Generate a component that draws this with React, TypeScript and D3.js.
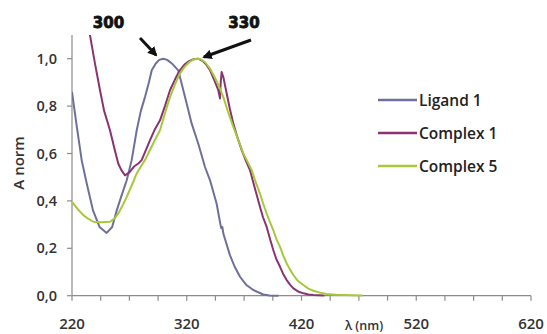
import React from "react";
import * as d3 from "d3";

const ligandX = [220, 224, 228.5, 233, 238.3, 244, 250.2, 255, 259, 263, 267.7, 272, 276.4, 280, 283.6, 287, 289.5, 293, 296, 299.6, 303, 307, 312.6, 318.5, 324.3, 330, 335.9, 340.3, 346, 349, 350, 351, 352, 357.7, 362, 366.4, 372, 378, 386.7, 392, 400];
const ligandY = [0.86, 0.72, 0.57, 0.47, 0.36, 0.29, 0.265, 0.29, 0.36, 0.42, 0.487, 0.572, 0.698, 0.78, 0.838, 0.9, 0.951, 0.98, 0.995, 1.0, 0.995, 0.98, 0.951, 0.838, 0.726, 0.642, 0.543, 0.487, 0.389, 0.31, 0.285, 0.29, 0.26, 0.17, 0.12, 0.08, 0.045, 0.024, 0.005, 0.001, 0.0];

const complex1X = [233, 236, 240, 244.4, 248, 253.1, 257, 260.3, 263, 266.2, 270, 274, 277.8, 280.7, 284, 288, 292, 296.7, 301, 305.4, 310, 314, 318, 322, 326, 330, 334, 337, 340.3, 344, 347.5, 349, 349.6, 350.4, 352, 354.8, 357.5, 360.6, 364, 367.9, 371.5, 375.1, 379, 383.8, 386.5, 389.6, 392.5, 395.4, 398, 401.3, 404, 407.1, 410, 412.9, 417, 421.6, 426, 430.3, 440];
const complex1Y = [1.18, 1.09, 0.98, 0.867, 0.78, 0.698, 0.62, 0.558, 0.53, 0.508, 0.52, 0.545, 0.558, 0.572, 0.61, 0.656, 0.7, 0.74, 0.8, 0.867, 0.915, 0.951, 0.975, 0.99, 0.998, 1.0, 0.99, 0.975, 0.951, 0.91, 0.867, 0.832, 0.9, 0.944, 0.92, 0.853, 0.79, 0.726, 0.67, 0.614, 0.57, 0.53, 0.46, 0.375, 0.33, 0.291, 0.24, 0.193, 0.155, 0.122, 0.092, 0.066, 0.047, 0.031, 0.018, 0.01, 0.005, 0.003, 0.001];

const complex5X = [220, 225, 229.9, 234, 238.6, 245, 253.1, 257, 260.3, 264, 267.7, 272, 276.4, 280, 283.6, 288, 292, 296.7, 301, 305.4, 310, 314, 318, 322, 326, 328.7, 332, 336, 340.3, 344, 348, 351.9, 356, 360.6, 365, 369.3, 372.5, 376.6, 380, 383.8, 386.5, 389.6, 392.5, 395.4, 398, 401.3, 404, 407.1, 410, 412.9, 417, 421.6, 426, 430.3, 436, 441.9, 450, 464.9, 473];
const complex5Y = [0.396, 0.365, 0.34, 0.325, 0.312, 0.31, 0.312, 0.325, 0.347, 0.38, 0.417, 0.465, 0.516, 0.545, 0.572, 0.615, 0.655, 0.698, 0.77, 0.838, 0.895, 0.937, 0.965, 0.985, 0.997, 1.0, 0.998, 0.985, 0.958, 0.925, 0.885, 0.838, 0.775, 0.712, 0.655, 0.6, 0.57, 0.53, 0.48, 0.431, 0.39, 0.347, 0.31, 0.277, 0.24, 0.206, 0.17, 0.136, 0.11, 0.087, 0.062, 0.045, 0.03, 0.021, 0.013, 0.007, 0.004, 0.002, 0.001];

const seriesNames = ["Ligand 1", "Complex 1", "Complex 5"];
const seriesColors = ["#6F6F9C", "#8A3370", "#A6C93A"];
const xTickLabels = [220, 320, 420, 520, 620];
const yTickValues = [0, 0.2, 0.4, 0.6, 0.8, 1.0];
const peakLabels = ["300", "330"];

const W = 547, H = 334;
const L = 72, R = 531, T = 35, B = 295.7;

export default function App() {
  const x = d3.scaleLinear().domain([220, 620]).range([L, R]);
  const y = d3.scaleLinear().domain([0, 1.1]).range([B, T]);
  const xs = [ligandX, complex1X, complex5X];
  const ys = [ligandY, complex1Y, complex5Y];
  const line = d3.line<[number, number]>().x(d => x(d[0])).y(d => y(d[1]));
  const minorTicks = d3.range(220, 621, 25);
  const font = "'Open Sans', sans-serif";
  return (
    <svg width={W} height={H} style={{ position: "absolute", left: 0, top: 0, background: "#fff" }}>
      <defs>
        <clipPath id="plot"><rect x={L} y={T} width={R - L} height={B - T + 2} /></clipPath>
        <marker id="ah" viewBox="0 0 10 10" refX="8" refY="5" markerWidth="3.2" markerHeight="3.2" orient="auto">
          <path d="M0,0 L10,5 L0,10 z" fill="#111" />
        </marker>
      </defs>
      <rect width={W} height={H} fill="#fff" />
      <line x1={L} x2={L} y1={T} y2={B} stroke="#8c8c8c" strokeWidth={1.2} />
      <line x1={L} x2={R} y1={B} y2={B} stroke="#8c8c8c" strokeWidth={1.2} />
      {yTickValues.map(v => (
        <g key={v}>
          <line x1={L - 5} x2={L} y1={y(v)} y2={y(v)} stroke="#8c8c8c" strokeWidth={1.2} />
          <text x={57} y={y(v) + 5} textAnchor="end" fontFamily={font} fontWeight={600} fontSize={14.5} fill="#333">
            {v.toFixed(1).replace(".", ",")}
          </text>
        </g>
      ))}
      {minorTicks.map(v => (
        <line key={v} x1={x(v)} x2={x(v)} y1={B} y2={B + 5} stroke="#8c8c8c" strokeWidth={1.2} />
      ))}
      {xTickLabels.map(v => (
        <text key={v} x={x(v)} y={328.5} textAnchor="middle" fontFamily={font} fontWeight={600} fontSize={15} fill="#333">{v}</text>
      ))}
      <text transform={`translate(24,163) rotate(-90)`} textAnchor="middle" fontFamily={font} fontWeight={600} fontSize={15} fill="#333">A norm</text>
      <text x={364} y={330} textAnchor="middle" fontFamily={font} fontWeight={600} fontSize={12.5} fill="#333">λ (nm)</text>
      <g clipPath="url(#plot)">
        {xs.map((xa, i) => (
          <path key={i} d={line(xa.map((v, j) => [v, ys[i][j]] as [number, number])) || ""} fill="none" stroke={seriesColors[i]} strokeWidth={2} strokeLinejoin="round" />
        ))}
      </g>
      {seriesNames.map((n, i) => (
        <g key={n}>
          <line x1={378} x2={417} y1={100 + i * 33} y2={100 + i * 33} stroke={seriesColors[i]} strokeWidth={2.4} />
          <text x={419} y={100 + i * 33 + 5.5} fontFamily={font} fontWeight={600} fontSize={15.5} fill="#222">{n}</text>
        </g>
      ))}
      <text x={108.5} y={28} textAnchor="middle" fontFamily="'DejaVu Sans', sans-serif" fontWeight={900} fontSize={15} fill="#111" stroke="#111" strokeWidth={0.8}>{peakLabels[0]}</text>
      <text x={244} y={28} textAnchor="middle" fontFamily="'DejaVu Sans', sans-serif" fontWeight={900} fontSize={15} fill="#111" stroke="#111" strokeWidth={0.8}>{peakLabels[1]}</text>
      <line x1={140} y1={38} x2={156} y2={55} stroke="#111" strokeWidth={3} markerEnd="url(#ah)" />
      <line x1={251} y1={40} x2={204} y2={57} stroke="#111" strokeWidth={3} markerEnd="url(#ah)" />
    </svg>
  );
}
